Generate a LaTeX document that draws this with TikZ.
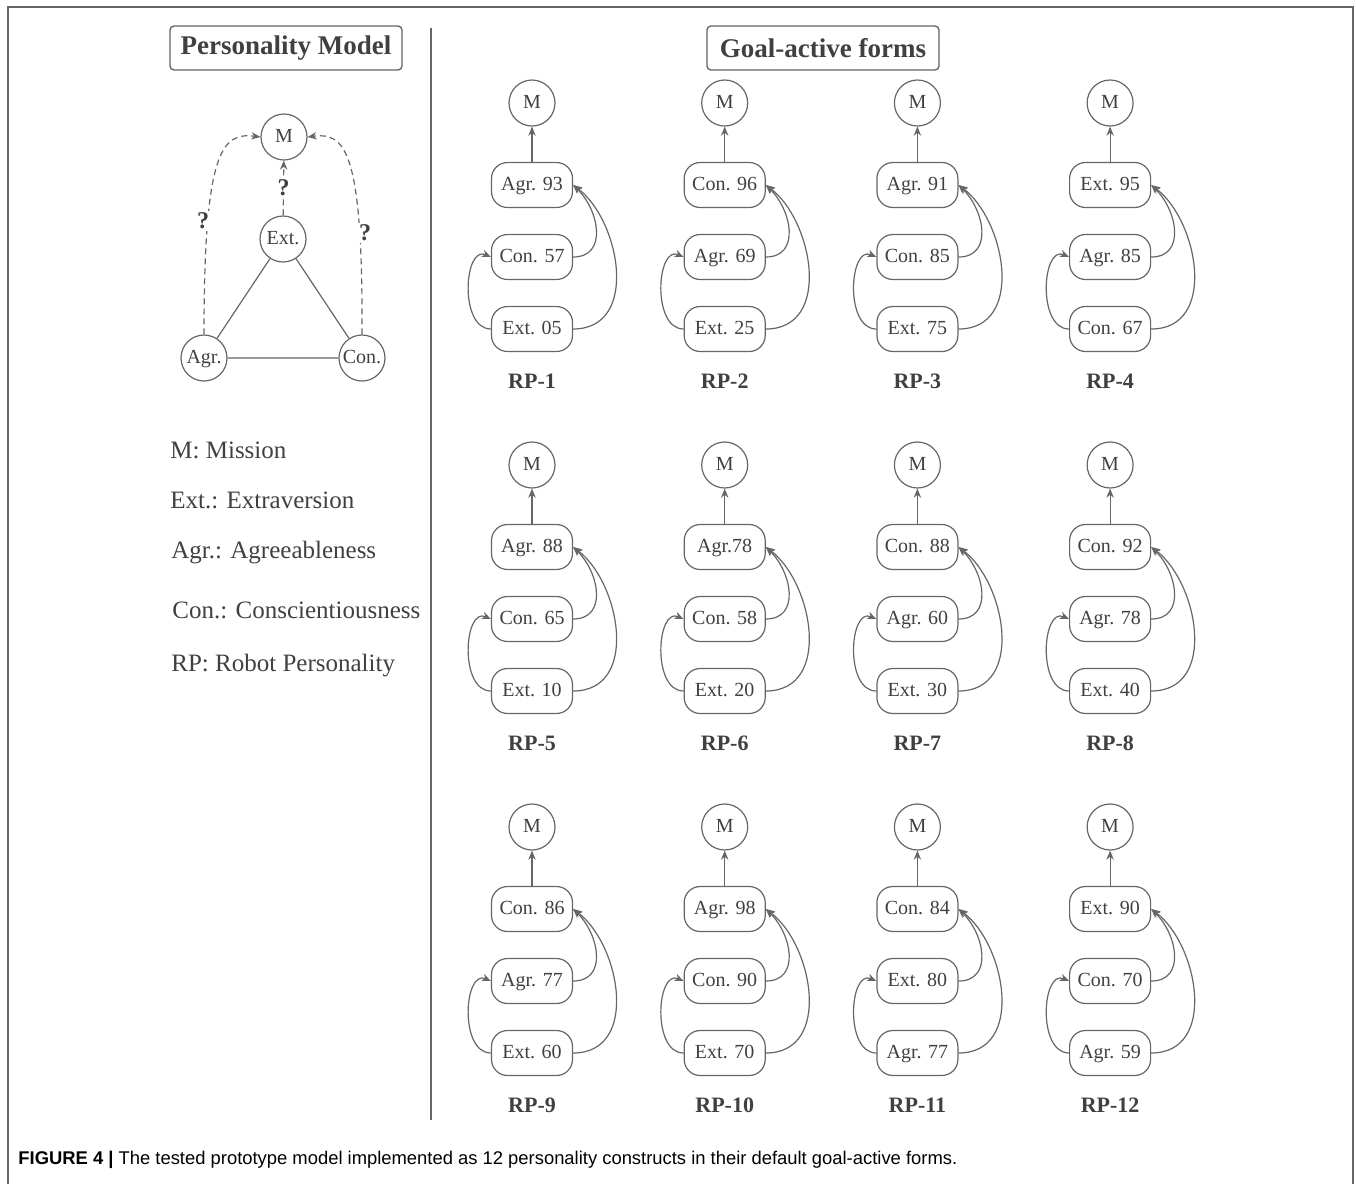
\documentclass[tikz,border=0pt]{standalone}
\usepackage{fontspec}
\setmainfont{Liberation Serif}
\newfontfamily\capfont{Liberation Sans}
\usetikzlibrary{arrows.meta,positioning,calc}
\definecolor{ink}{HTML}{404040}
\definecolor{edge}{HTML}{666666}
\tikzset{traitbox/.style={draw=edge,rounded corners=8pt,minimum width=40.5pt,minimum height=22.5pt,
 inner sep=2pt,font=\fontsize{10}{12}\selectfont,text=ink,line width=0.6pt,text height=1.55ex,text depth=0.35ex},
 traitcirc/.style={draw=edge,circle,minimum size=23pt,inner sep=0pt,font=\fontsize{10}{12}\selectfont,
 text=ink,line width=0.6pt,text height=1.55ex,text depth=0.35ex},
 headbox/.style={draw=edge,rounded corners=2pt,minimum width=116pt,minimum height=22pt,
 font=\bfseries\fontsize{13.5}{16}\selectfont,text=ink,line width=0.7pt},
 legend/.style={anchor=west,font=\fontsize{12.5}{15}\selectfont,text=ink,inner sep=0pt},
 qmark/.style={fill=white,inner sep=1pt,font=\bfseries\fontsize{12}{14}\selectfont,text=ink},
 flowarrow/.style={-{Stealth[length=1.6mm,width=1.3mm]},draw=edge,line width=0.6pt},
 qarrow/.style={flowarrow,dash pattern=on 3pt off 2pt}}
\begin{document}
\begin{tikzpicture}[x=0.5pt,y=-0.5pt]
\useasboundingbox (0,0) rectangle (1356,1184);
\draw[edge,line width=0.8pt] (8,1184) -- (8,7) -- (1353,7) -- (1353,1184);
\draw[edge,line width=0.6pt] (431,28) -- (431,1120);
% headings
\node[headbox] (hpm) at (286,48) {Personality Model};
\node[headbox] (hgf) at (823,48) {Goal-active forms};
% personality model
\node[traitcirc] (pm) at (284,137) {M};
\node[traitcirc] (pe) at (283,239) {Ext.};
\node[traitcirc] (pa) at (204,358) {Agr.};
\node[traitcirc] (pc) at (362,358) {Con.};
\draw[edge,line width=0.6pt] (pa)--(pe) (pe)--(pc) (pa)--(pc);
\draw[qarrow] (pe)--(pm) node[midway,qmark] {?};
\draw[qarrow] (pa.north) .. controls (204,150) and (222,132) .. (pm.west);
\draw[qarrow] (pc.north) .. controls (363,150) and (345,132) .. (pm.east);
\node[qmark] (q1) at (203,221) {?};
\node[qmark] (q2) at (365,233) {?};
% legend
\node[legend] (l1) at (170,450) {M: Mission};
\node[legend] (l2) at (170,500) {Ext.: Extraversion};
\node[legend] (l3) at (171,553) {Agr.: Agreeableness};
\node[legend] (l4) at (172,610) {Con.: Conscientiousness};
\node[legend] (l5) at (171,666) {RP: Robot Personality};
% goal-active forms
\foreach \rp/\ta/\tb/\tc [count=\i from 0] in {RP-1/Agr. 93/Con. 57/Ext. 05,RP-2/Con. 96/Agr. 69/Ext. 25,
 RP-3/Agr. 91/Con. 85/Ext. 75,RP-4/Ext. 95/Agr. 85/Con. 67,RP-5/Agr. 88/Con. 65/Ext. 10,
 RP-6/Agr.78/Con. 58/Ext. 20,RP-7/Con. 88/Agr. 60/Ext. 30,RP-8/Con. 92/Agr. 78/Ext. 40,
 RP-9/Con. 86/Agr. 77/Ext. 60,RP-10/Agr. 98/Con. 90/Ext. 70,RP-11/Con. 84/Ext. 80/Agr. 77,
 RP-12/Ext. 90/Con. 70/Agr. 59}{
 \pgfmathsetmacro\cx{532+mod(\i,4)*192.7}
 \pgfmathsetmacro\cy{103+int(\i/4)*362}
 \node[traitcirc] (m\i) at (\cx,\cy) {M};
 \node[traitbox] (a\i) at (\cx,\cy+82) {\ta};
 \node[traitbox] (b\i) at (\cx,\cy+154) {\tb};
 \node[traitbox] (c\i) at (\cx,\cy+226) {\tc};
 \node[font=\bfseries\fontsize{11}{13}\selectfont,text=ink] (rp\i) at (\cx,\cy+278) {\rp};
 \draw[flowarrow] (a\i)--(m\i);
 \draw[flowarrow] (b\i.east) .. controls +(35,0) and +(26,25) .. (a\i.east);
 \draw[flowarrow] (c\i.east) .. controls +(67,0) and +(47,35) .. (a\i.east);
 \draw[flowarrow] (c\i.west) .. controls +(-32,0) and +(-27,-12) .. (b\i.west);
}
% caption
\node[anchor=west,font=\capfont\fontsize{9.2}{11}\selectfont,text=black,inner sep=0pt] (cap) at (18,1160)
 {\textbf{FIGURE 4 |} The tested prototype model implemented as 12 personality constructs in their default goal-active forms.};
\end{tikzpicture}
\end{document}
